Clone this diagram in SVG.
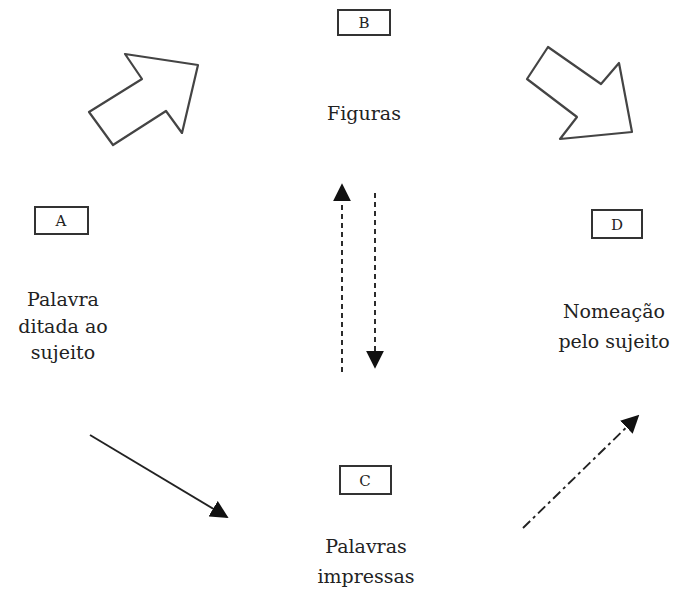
<svg xmlns="http://www.w3.org/2000/svg" width="677" height="590" viewBox="0 0 677 590">
<defs>
<style>
.t{font-family:"DejaVu Serif","Liberation Serif",serif;font-size:19px;fill:#222;text-anchor:middle}
.l{font-family:"DejaVu Serif","Liberation Serif",serif;font-size:15px;fill:#222;text-anchor:middle}
.box{fill:#fff;stroke:#333;stroke-width:2}
.blk{fill:#fff;stroke:#444;stroke-width:2.2;stroke-linejoin:round}
.c{stroke:#222;stroke-width:1.9;fill:none}
</style>
<marker id="ahb" viewBox="0 0 10 10" refX="9" refY="5" markerWidth="18" markerHeight="18" markerUnits="userSpaceOnUse" orient="auto">
<path d="M0,0 L10,5 L0,10 z" fill="#111"/>
</marker>
</defs>
<rect width="677" height="590" fill="#fff"/>
<g id="nodeB">
<rect class="box" x="338" y="10" width="52" height="25"/>
<text class="l" x="364" y="28">B</text>
<text class="t" x="364" y="120">Figuras</text>
</g>
<g id="nodeA">
<rect class="box" x="35" y="207" width="53" height="27"/>
<text class="l" x="61" y="226">A</text>
<text class="t" x="63" y="306">Palavra</text>
<text class="t" x="63" y="333">ditada ao</text>
<text class="t" x="63" y="359">sujeito</text>
</g>
<g id="nodeD">
<rect class="box" x="592" y="210" width="50" height="28"/>
<text class="l" x="617" y="230">D</text>
<text class="t" x="614" y="318">Nomeação</text>
<text class="t" x="614" y="348">pelo sujeito</text>
</g>
<g id="nodeC">
<rect class="box" x="340" y="466" width="51" height="28"/>
<text class="l" x="365" y="486">C</text>
<text class="t" x="366" y="553">Palavras</text>
<text class="t" x="366" y="583">impressas</text>
</g>
<g id="blockArrows">
<polygon class="blk" points="125,54 198,65 182,133 166,111 113,145 89,112 142,79"/>
<polygon class="blk" points="548,47 601,84 619,63 632,132 560,139 577,117 527,79"/>
</g>
<g id="connectors">
<line class="c" x1="342" y1="372" x2="342" y2="185" stroke-dasharray="5,4" marker-end="url(#ahb)"/>
<line class="c" x1="375" y1="193" x2="375" y2="367" stroke-dasharray="5,4" marker-end="url(#ahb)"/>
<line class="c" x1="90" y1="435" x2="227" y2="517" marker-end="url(#ahb)"/>
<line class="c" x1="523" y1="528" x2="638" y2="416" stroke-dasharray="10,4,3,4" marker-end="url(#ahb)"/>
</g>
</svg>
